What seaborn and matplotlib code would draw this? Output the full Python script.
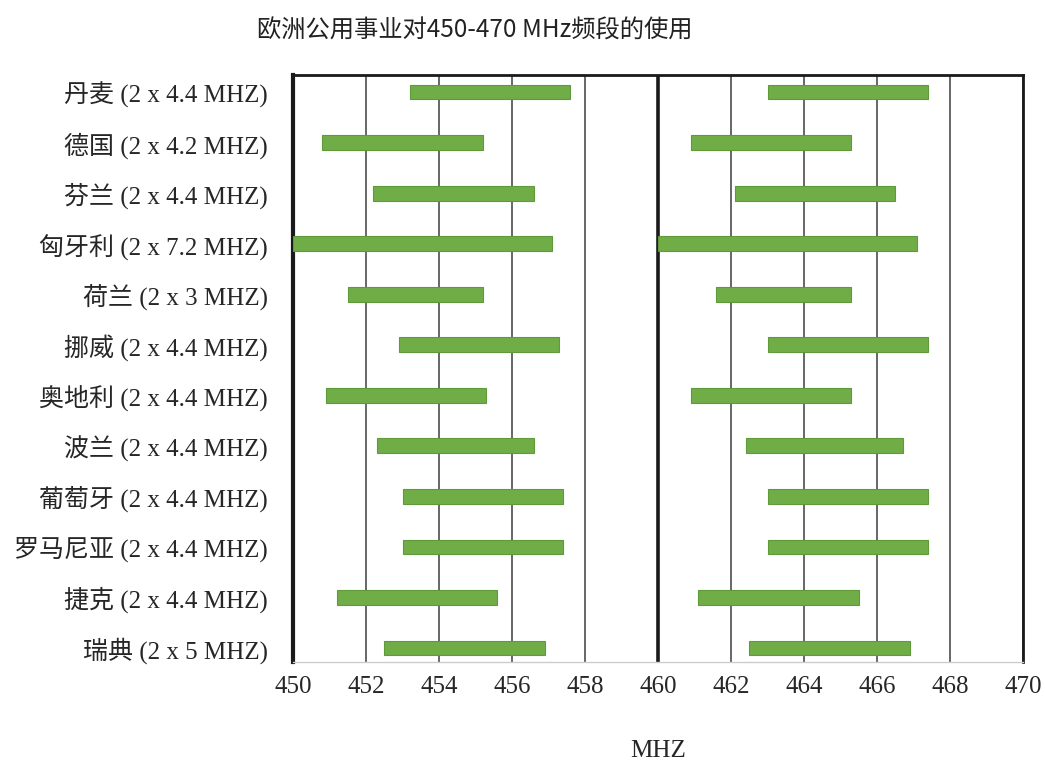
"""Floating bar chart of 450-470 MHz usage by European utilities."""

import matplotlib

matplotlib.use("Agg")

import matplotlib.pyplot as plt
import numpy as np
import pandas as pd
import seaborn as sns


COUNTRIES = [
    "丹麦 (2 x 4.4 MHZ)",
    "德国 (2 x 4.2 MHZ)",
    "芬兰 (2 x 4.4 MHZ)",
    "匈牙利 (2 x 7.2 MHZ)",
    "荷兰 (2 x 3 MHZ)",
    "挪威 (2 x 4.4 MHZ)",
    "奥地利 (2 x 4.4 MHZ)",
    "波兰 (2 x 4.4 MHZ)",
    "葡萄牙 (2 x 4.4 MHZ)",
    "罗马尼亚 (2 x 4.4 MHZ)",
    "捷克 (2 x 4.4 MHZ)",
    "瑞典 (2 x 5 MHZ)",
]

# lower band (start, end) in MHz
LOW_START = [453.2, 450.8, 452.2, 450.0, 451.5, 452.9, 450.9, 452.3, 453.0, 453.0, 451.2, 452.5]
LOW_END = [457.6, 455.2, 456.6, 457.1, 455.2, 457.3, 455.3, 456.6, 457.4, 457.4, 455.6, 456.9]

# upper band (start, end) in MHz
HIGH_START = [463.0, 460.9, 462.1, 460.0, 461.6, 463.0, 460.9, 462.4, 463.0, 463.0, 461.1, 462.5]
HIGH_END = [467.4, 465.3, 466.5, 467.1, 465.3, 467.4, 465.3, 466.7, 467.4, 467.4, 465.5, 466.9]

X_TICKS = list(range(450, 471, 2))

SERIF = ["Liberation Serif", "Noto Sans CJK SC"]
SANS = ["Noto Sans CJK SC", "DejaVu Sans"]
GREEN = "#70AD47"


def build_frame() -> pd.DataFrame:
    frame = pd.DataFrame(
        {
            "country": COUNTRIES,
            "low_start": LOW_START,
            "low_end": LOW_END,
            "high_start": HIGH_START,
            "high_end": HIGH_END,
        }
    )
    frame["low_width"] = frame["low_end"] - frame["low_start"]
    frame["high_width"] = frame["high_end"] - frame["high_start"]
    return frame


def main() -> None:
    sns.set_theme(style="white")
    plt.rcParams["font.family"] = SERIF

    frame = build_frame()

    figure = plt.figure(figsize=(10.45, 7.65), dpi=100)
    axis = figure.add_axes([0.2804, 0.1346, 0.6986, 0.7674])

    for band in ["low", "high"]:
        sns.barplot(
            data=frame,
            x=f"{band}_width",
            y="country",
            order=COUNTRIES,
            orient="y",
            left=frame[f"{band}_start"].to_numpy(),
            width=0.29,
            color=GREEN,
            saturation=1,
            edgecolor="#5E9A3A",
            linewidth=0.8,
            zorder=3,
            ax=axis,
        )

    axis.set_xlim(450, 470)
    axis.set_ylim(11.28, -0.34)
    axis.set_xticks(X_TICKS)
    axis.set_xticklabels([str(t) for t in X_TICKS], fontsize=18, family=SERIF)
    axis.set_yticks(np.arange(len(COUNTRIES)))
    axis.set_yticklabels(COUNTRIES, fontsize=18, family=SERIF)
    axis.tick_params(axis="y", length=0, pad=18)
    axis.tick_params(axis="x", length=0, pad=10)

    axis.xaxis.grid(True, color="#5A5A5A", linewidth=1.3)
    axis.yaxis.grid(False)
    axis.set_axisbelow(True)
    axis.axvline(460, color="#1A1A1A", linewidth=2.6, zorder=2)

    for side in ["left", "top", "right"]:
        axis.spines[side].set_color("#1A1A1A")
    axis.spines["left"].set_linewidth(3.0)
    axis.spines["top"].set_linewidth(2.0)
    axis.spines["right"].set_linewidth(2.0)
    axis.spines["bottom"].set_color("#CCCCCC")
    axis.spines["bottom"].set_linewidth(1.0)

    axis.set_xlabel("MHZ", fontsize=18, family=SERIF, labelpad=30)
    axis.set_ylabel("")

    figure.text(0.4545, 0.96, "欧洲公用事业对450-470 MHz频段的使用",
                ha="center", va="center", fontsize=17.5, family=SANS, color="#222222")

    figure.savefig("out.png", dpi=100)
    plt.close(figure)


if __name__ == "__main__":
    main()
